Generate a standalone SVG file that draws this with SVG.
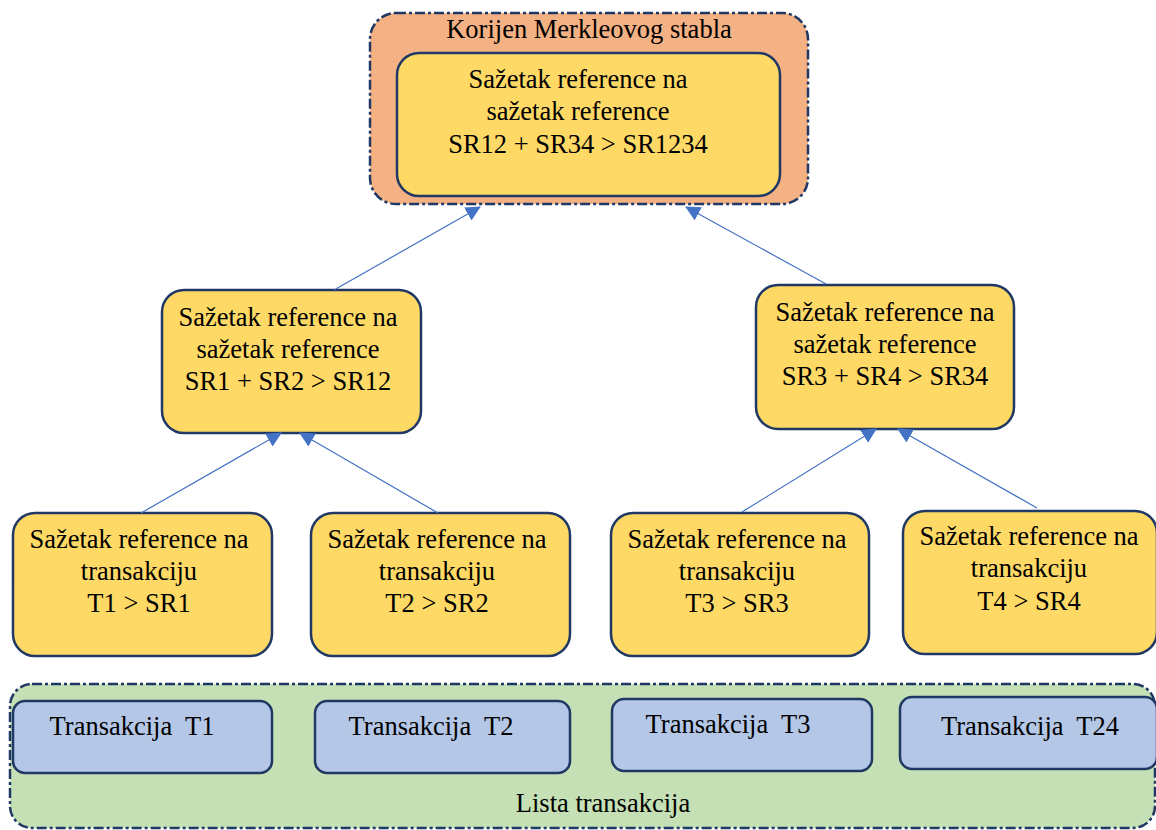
<svg xmlns="http://www.w3.org/2000/svg" width="1156" height="830" viewBox="0 0 1156 830">
<defs>
<style>
.t{font-family:"Liberation Serif","Times New Roman",serif;font-size:26.5px;fill:#000;text-anchor:middle}
.y{fill:#FFD966;stroke:#203864;stroke-width:2.5}
.b{fill:#B4C7E7;stroke:#203864;stroke-width:2.5}
.dd{stroke:#203864;stroke-width:2.5;stroke-dasharray:10 3 3 3}
.c{stroke:#4472C4;stroke-width:1.2;fill:none;marker-end:url(#ah)}
</style>
<marker id="ah" markerUnits="userSpaceOnUse" markerWidth="15" markerHeight="15" refX="14" refY="7.5" orient="auto" viewBox="0 0 15 15">
<path d="M0,0 L15,7.5 L0,15 z" fill="#4472C4"/>
</marker>
</defs>
<rect width="1156" height="830" fill="#fff"/>

<g id="lista">
<rect class="dd" x="10" y="684" width="1145" height="144" rx="22" fill="#C5E0B4"/>
<text class="t" x="603" y="812">Lista transakcija</text>
</g>

<g id="root">
<rect class="dd" x="370" y="13" width="438" height="191" rx="26" fill="#F4B183"/>
<text class="t" x="589" y="38">Korijen Merkleovog stabla</text>
<rect class="y" x="397" y="53" width="383" height="143" rx="22"/>
<text class="t" x="578" y="88">Sažetak reference na</text>
<text class="t" x="578" y="120">sažetak reference</text>
<text class="t" x="578" y="153">SR12 + SR34 &gt; SR1234</text>
</g>

<g id="sr12">
<rect class="y" x="162" y="290" width="259" height="143" rx="22"/>
<text class="t" x="288" y="326">Sažetak reference na</text>
<text class="t" x="288" y="358">sažetak reference</text>
<text class="t" x="288" y="390">SR1 + SR2 &gt; SR12</text>
</g>

<g id="sr34">
<rect class="y" x="756" y="285" width="258" height="144" rx="22"/>
<text class="t" x="885" y="321">Sažetak reference na</text>
<text class="t" x="885" y="353">sažetak reference</text>
<text class="t" x="885" y="385">SR3 + SR4 &gt; SR34</text>
</g>

<g id="sr1">
<rect class="y" x="13" y="513" width="259" height="143" rx="22"/>
<text class="t" x="139" y="548">Sažetak reference na</text>
<text class="t" x="139" y="580">transakciju</text>
<text class="t" x="139" y="612">T1 &gt; SR1</text>
</g>

<g id="sr2">
<rect class="y" x="311" y="513" width="259" height="143" rx="22"/>
<text class="t" x="437" y="548">Sažetak reference na</text>
<text class="t" x="437" y="580">transakciju</text>
<text class="t" x="437" y="612">T2 &gt; SR2</text>
</g>

<g id="sr3">
<rect class="y" x="611" y="513" width="258" height="143" rx="22"/>
<text class="t" x="737" y="548">Sažetak reference na</text>
<text class="t" x="737" y="580">transakciju</text>
<text class="t" x="737" y="612">T3 &gt; SR3</text>
</g>

<g id="sr4">
<rect class="y" x="903" y="511" width="254" height="143" rx="22"/>
<text class="t" x="1029" y="545">Sažetak reference na</text>
<text class="t" x="1029" y="577">transakciju</text>
<text class="t" x="1029" y="610">T4 &gt; SR4</text>
</g>

<g id="t1">
<rect class="b" x="13" y="701" width="259" height="72" rx="12"/>
<text class="t" x="132" y="735" xml:space="preserve">Transakcija  T1</text>
</g>
<g id="t2">
<rect class="b" x="315" y="701" width="255" height="72" rx="12"/>
<text class="t" x="431" y="735" xml:space="preserve">Transakcija  T2</text>
</g>
<g id="t3">
<rect class="b" x="612" y="699" width="260" height="72" rx="12"/>
<text class="t" x="728" y="733" xml:space="preserve">Transakcija  T3</text>
</g>
<g id="t24">
<rect class="b" x="900" y="697" width="257" height="72" rx="12"/>
<text class="t" x="1030" y="735" xml:space="preserve">Transakcija  T24</text>
</g>

<g id="connectors">
<line class="c" x1="334" y1="290" x2="480" y2="207"/>
<line class="c" x1="826" y1="284" x2="686" y2="207"/>
<line class="c" x1="141" y1="513" x2="281" y2="433"/>
<line class="c" x1="438" y1="513" x2="300" y2="433"/>
<line class="c" x1="742" y1="512" x2="876" y2="429"/>
<line class="c" x1="1037" y1="508" x2="898" y2="429"/>
</g>
</svg>
